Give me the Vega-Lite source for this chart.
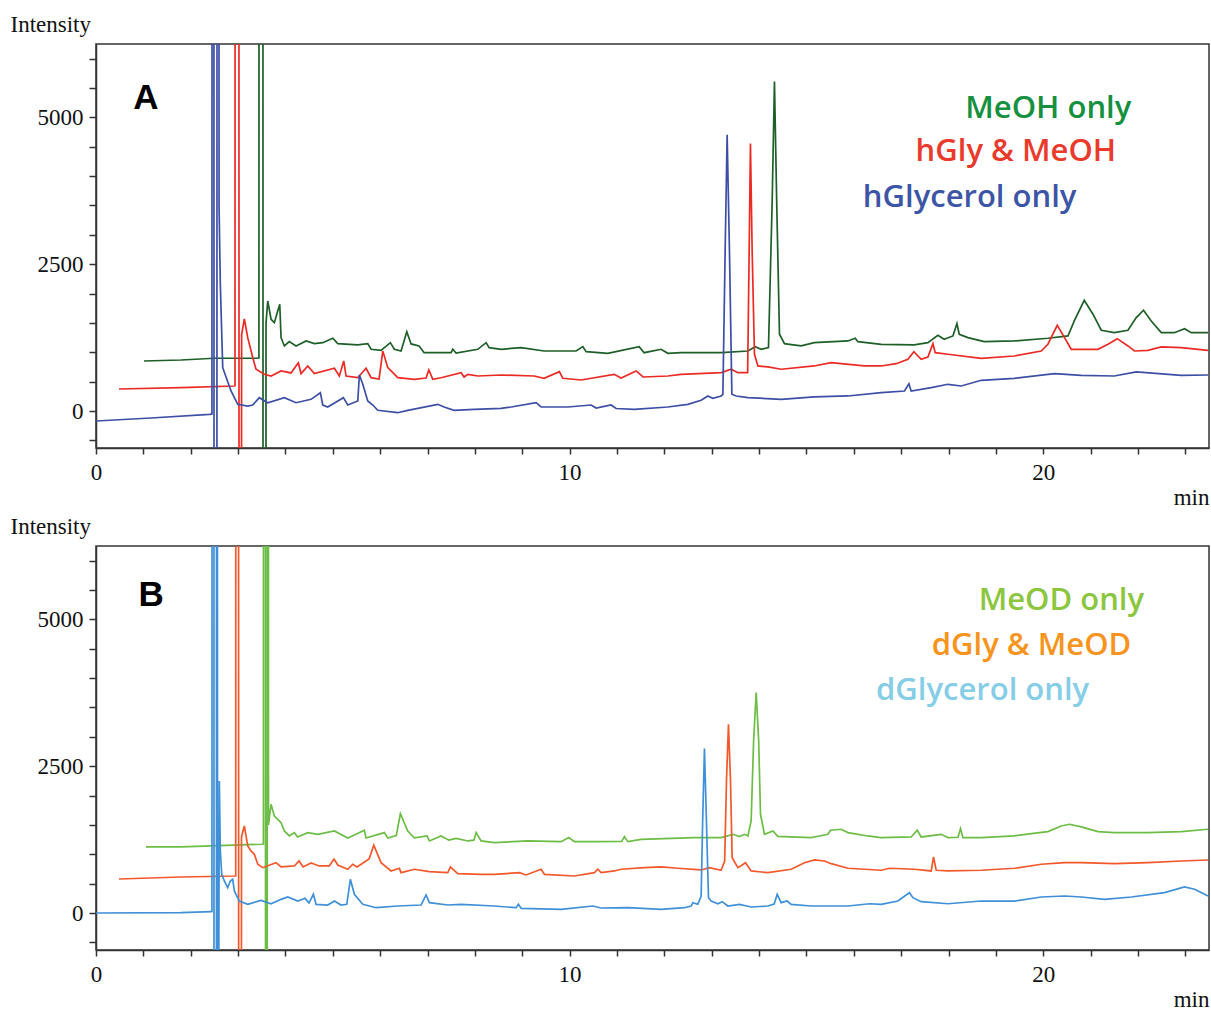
{
  "$schema": "https://vega.github.io/schema/vega-lite/v6.json",
  "padding": {"left": 9, "top": 12, "right": 2, "bottom": 2},
  "background": "white",
  "bounds": "flush",
  "spacing": 98,
  "datasets": {
    "A": [
      {"s":"MeOH only","t":1.014,"v":852},{"s":"MeOH only","t":1.795,"v":869},{"s":"MeOH only","t":2.498,"v":898},{"s":"MeOH only","t":3.415,"v":898},{"s":"MeOH only","t":3.44,"v":905},{"s":"MeOH only","t":3.442,"v":9000},{"s":"MeOH only","t":3.525,"v":9000},{"s":"MeOH only","t":3.527,"v":-3000},{"s":"MeOH only","t":3.588,"v":-3000},{"s":"MeOH only","t":3.59,"v":1500},{"s":"MeOH only","t":3.626,"v":1874},{"s":"MeOH only","t":3.696,"v":1563},{"s":"MeOH only","t":3.766,"v":1505},{"s":"MeOH only","t":3.837,"v":1704},{"s":"MeOH only","t":3.88,"v":1818},{"s":"MeOH only","t":3.907,"v":1249},{"s":"MeOH only","t":3.977,"v":1108},{"s":"MeOH only","t":4.082,"v":1181},{"s":"MeOH only","t":4.224,"v":1108},{"s":"MeOH only","t":4.435,"v":1193},{"s":"MeOH only","t":4.61,"v":1147},{"s":"MeOH only","t":4.788,"v":1164},{"s":"MeOH only","t":4.999,"v":1239},{"s":"MeOH only","t":5.105,"v":1147},{"s":"MeOH only","t":5.527,"v":1125},{"s":"MeOH only","t":5.738,"v":1147},{"s":"MeOH only","t":5.808,"v":1051},{"s":"MeOH only","t":6.019,"v":1034},{"s":"MeOH only","t":6.215,"v":1164},{"s":"MeOH only","t":6.3,"v":1051},{"s":"MeOH only","t":6.441,"v":1022},{"s":"MeOH only","t":6.562,"v":1351},{"s":"MeOH only","t":6.653,"v":1142},{"s":"MeOH only","t":6.822,"v":1108},{"s":"MeOH only","t":6.927,"v":993},{"s":"MeOH only","t":7.497,"v":993},{"s":"MeOH only","t":7.533,"v":1051},{"s":"MeOH only","t":7.603,"v":988},{"s":"MeOH only","t":8.061,"v":1051},{"s":"MeOH only","t":8.237,"v":1164},{"s":"MeOH only","t":8.3,"v":1079},{"s":"MeOH only","t":8.553,"v":1051},{"s":"MeOH only","t":8.976,"v":1079},{"s":"MeOH only","t":9.461,"v":1022},{"s":"MeOH only","t":10.137,"v":1022},{"s":"MeOH only","t":10.279,"v":1096},{"s":"MeOH only","t":10.348,"v":1010},{"s":"MeOH only","t":10.807,"v":983},{"s":"MeOH only","t":11.468,"v":1096},{"s":"MeOH only","t":11.573,"v":993},{"s":"MeOH only","t":11.932,"v":1051},{"s":"MeOH only","t":12.074,"v":983},{"s":"MeOH only","t":12.355,"v":993},{"s":"MeOH only","t":13.2,"v":993},{"s":"MeOH only","t":13.764,"v":1022},{"s":"MeOH only","t":13.918,"v":1096},{"s":"MeOH only","t":14.044,"v":1051},{"s":"MeOH only","t":14.199,"v":1079},{"s":"MeOH only","t":14.277,"v":3578},{"s":"MeOH only","t":14.325,"v":5611},{"s":"MeOH only","t":14.372,"v":3578},{"s":"MeOH only","t":14.431,"v":1307},{"s":"MeOH only","t":14.537,"v":1147},{"s":"MeOH only","t":14.642,"v":1136},{"s":"MeOH only","t":14.889,"v":1108},{"s":"MeOH only","t":15.164,"v":1164},{"s":"MeOH only","t":15.876,"v":1193},{"s":"MeOH only","t":16.03,"v":1239},{"s":"MeOH only","t":16.087,"v":1181},{"s":"MeOH only","t":16.579,"v":1136},{"s":"MeOH only","t":17.276,"v":1125},{"s":"MeOH only","t":17.565,"v":1164},{"s":"MeOH only","t":17.776,"v":1290},{"s":"MeOH only","t":17.909,"v":1222},{"s":"MeOH only","t":18.093,"v":1278},{"s":"MeOH only","t":18.178,"v":1488},{"s":"MeOH only","t":18.226,"v":1307},{"s":"MeOH only","t":18.41,"v":1249},{"s":"MeOH only","t":18.754,"v":1181},{"s":"MeOH only","t":19.388,"v":1193},{"s":"MeOH only","t":20.099,"v":1239},{"s":"MeOH only","t":20.522,"v":1278},{"s":"MeOH only","t":20.655,"v":1534},{"s":"MeOH only","t":20.866,"v":1886},{"s":"MeOH only","t":21.05,"v":1648},{"s":"MeOH only","t":21.225,"v":1375},{"s":"MeOH only","t":21.5,"v":1334},{"s":"MeOH only","t":21.789,"v":1375},{"s":"MeOH only","t":21.964,"v":1590},{"s":"MeOH only","t":22.118,"v":1716},{"s":"MeOH only","t":22.281,"v":1534},{"s":"MeOH only","t":22.492,"v":1334},{"s":"MeOH only","t":22.767,"v":1334},{"s":"MeOH only","t":22.984,"v":1402},{"s":"MeOH only","t":23.126,"v":1334},{"s":"MeOH only","t":23.479,"v":1334},
      {"s":"hGly & MeOH","t":0.486,"v":375},{"s":"hGly & MeOH","t":1.795,"v":397},{"s":"hGly & MeOH","t":2.921,"v":426},{"s":"hGly & MeOH","t":2.935,"v":430},{"s":"hGly & MeOH","t":2.937,"v":9000},{"s":"hGly & MeOH","t":3.018,"v":9000},{"s":"hGly & MeOH","t":3.02,"v":-3000},{"s":"hGly & MeOH","t":3.07,"v":-3000},{"s":"hGly & MeOH","t":3.075,"v":1300},{"s":"hGly & MeOH","t":3.132,"v":1569},{"s":"hGly & MeOH","t":3.204,"v":1249},{"s":"hGly & MeOH","t":3.309,"v":910},{"s":"hGly & MeOH","t":3.379,"v":710},{"s":"hGly & MeOH","t":3.554,"v":625},{"s":"hGly & MeOH","t":3.696,"v":596},{"s":"hGly & MeOH","t":3.907,"v":682},{"s":"hGly & MeOH","t":4.118,"v":648},{"s":"hGly & MeOH","t":4.272,"v":823},{"s":"hGly & MeOH","t":4.329,"v":636},{"s":"hGly & MeOH","t":4.471,"v":767},{"s":"hGly & MeOH","t":4.61,"v":636},{"s":"hGly & MeOH","t":5.033,"v":728},{"s":"hGly & MeOH","t":5.138,"v":596},{"s":"hGly & MeOH","t":5.231,"v":852},{"s":"hGly & MeOH","t":5.28,"v":596},{"s":"hGly & MeOH","t":5.527,"v":567},{"s":"hGly & MeOH","t":5.702,"v":728},{"s":"hGly & MeOH","t":5.808,"v":567},{"s":"hGly & MeOH","t":5.977,"v":545},{"s":"hGly & MeOH","t":6.055,"v":1022},{"s":"hGly & MeOH","t":6.161,"v":738},{"s":"hGly & MeOH","t":6.372,"v":567},{"s":"hGly & MeOH","t":6.722,"v":540},{"s":"hGly & MeOH","t":6.969,"v":562},{"s":"hGly & MeOH","t":7.027,"v":699},{"s":"hGly & MeOH","t":7.111,"v":540},{"s":"hGly & MeOH","t":7.286,"v":567},{"s":"hGly & MeOH","t":7.709,"v":653},{"s":"hGly & MeOH","t":7.772,"v":579},{"s":"hGly & MeOH","t":7.85,"v":625},{"s":"hGly & MeOH","t":8.061,"v":596},{"s":"hGly & MeOH","t":8.553,"v":613},{"s":"hGly & MeOH","t":9.25,"v":596},{"s":"hGly & MeOH","t":9.461,"v":557},{"s":"hGly & MeOH","t":9.785,"v":670},{"s":"hGly & MeOH","t":9.856,"v":557},{"s":"hGly & MeOH","t":10.243,"v":528},{"s":"hGly & MeOH","t":10.94,"v":625},{"s":"hGly & MeOH","t":11.088,"v":562},{"s":"hGly & MeOH","t":11.404,"v":682},{"s":"hGly & MeOH","t":11.552,"v":579},{"s":"hGly & MeOH","t":12.074,"v":596},{"s":"hGly & MeOH","t":12.355,"v":625},{"s":"hGly & MeOH","t":13.2,"v":653},{"s":"hGly & MeOH","t":13.411,"v":711},{"s":"hGly & MeOH","t":13.552,"v":653},{"s":"hGly & MeOH","t":13.759,"v":653},{"s":"hGly & MeOH","t":13.791,"v":2726},{"s":"hGly & MeOH","t":13.818,"v":4555},{"s":"hGly & MeOH","t":13.854,"v":2726},{"s":"hGly & MeOH","t":13.903,"v":966},{"s":"hGly & MeOH","t":13.975,"v":767},{"s":"hGly & MeOH","t":14.186,"v":750},{"s":"hGly & MeOH","t":14.467,"v":711},{"s":"hGly & MeOH","t":15.164,"v":767},{"s":"hGly & MeOH","t":15.523,"v":823},{"s":"hGly & MeOH","t":16.22,"v":767},{"s":"hGly & MeOH","t":16.579,"v":767},{"s":"hGly & MeOH","t":16.896,"v":806},{"s":"hGly & MeOH","t":17.143,"v":881},{"s":"hGly & MeOH","t":17.269,"v":1010},{"s":"hGly & MeOH","t":17.423,"v":881},{"s":"hGly & MeOH","t":17.565,"v":920},{"s":"hGly & MeOH","t":17.671,"v":1147},{"s":"hGly & MeOH","t":17.719,"v":993},{"s":"hGly & MeOH","t":17.988,"v":966},{"s":"hGly & MeOH","t":18.691,"v":898},{"s":"hGly & MeOH","t":19.388,"v":937},{"s":"hGly & MeOH","t":19.958,"v":1022},{"s":"hGly & MeOH","t":20.099,"v":1137},{"s":"hGly & MeOH","t":20.296,"v":1460},{"s":"hGly & MeOH","t":20.45,"v":1249},{"s":"hGly & MeOH","t":20.591,"v":1051},{"s":"hGly & MeOH","t":21.155,"v":1051},{"s":"hGly & MeOH","t":21.367,"v":1137},{"s":"hGly & MeOH","t":21.563,"v":1232},{"s":"hGly & MeOH","t":21.789,"v":1108},{"s":"hGly & MeOH","t":21.928,"v":1022},{"s":"hGly & MeOH","t":22.211,"v":1034},{"s":"hGly & MeOH","t":22.492,"v":1091},{"s":"hGly & MeOH","t":22.915,"v":1079},{"s":"hGly & MeOH","t":23.479,"v":1034},
      {"s":"hGlycerol only","t":0,"v":-170},{"s":"hGlycerol only","t":1.162,"v":-119},{"s":"hGlycerol only","t":2.399,"v":-56},{"s":"hGlycerol only","t":2.448,"v":-50},{"s":"hGlycerol only","t":2.45,"v":9000},{"s":"hGlycerol only","t":2.49,"v":9000},{"s":"hGlycerol only","t":2.492,"v":-3000},{"s":"hGlycerol only","t":2.553,"v":-3000},{"s":"hGlycerol only","t":2.555,"v":9000},{"s":"hGlycerol only","t":2.596,"v":9000},{"s":"hGlycerol only","t":2.598,"v":3500},{"s":"hGlycerol only","t":2.625,"v":2159},{"s":"hGlycerol only","t":2.676,"v":738},{"s":"hGlycerol only","t":2.851,"v":341},{"s":"hGlycerol only","t":2.993,"v":114},{"s":"hGlycerol only","t":3.204,"v":85},{"s":"hGlycerol only","t":3.309,"v":102},{"s":"hGlycerol only","t":3.449,"v":227},{"s":"hGlycerol only","t":3.626,"v":141},{"s":"hGlycerol only","t":3.977,"v":227},{"s":"hGlycerol only","t":4.224,"v":141},{"s":"hGlycerol only","t":4.541,"v":199},{"s":"hGlycerol only","t":4.737,"v":312},{"s":"hGlycerol only","t":4.788,"v":102},{"s":"hGlycerol only","t":4.893,"v":68},{"s":"hGlycerol only","t":5.223,"v":227},{"s":"hGlycerol only","t":5.316,"v":102},{"s":"hGlycerol only","t":5.527,"v":170},{"s":"hGlycerol only","t":5.561,"v":613},{"s":"hGlycerol only","t":5.633,"v":455},{"s":"hGlycerol only","t":5.738,"v":170},{"s":"hGlycerol only","t":5.844,"v":102},{"s":"hGlycerol only","t":5.949,"v":12},{"s":"hGlycerol only","t":6.372,"v":-29},{"s":"hGlycerol only","t":6.583,"v":12},{"s":"hGlycerol only","t":7.217,"v":114},{"s":"hGlycerol only","t":7.35,"v":68},{"s":"hGlycerol only","t":7.561,"v":12},{"s":"hGlycerol only","t":7.983,"v":29},{"s":"hGlycerol only","t":8.553,"v":46},{"s":"hGlycerol only","t":8.765,"v":68},{"s":"hGlycerol only","t":9.293,"v":141},{"s":"hGlycerol only","t":9.398,"v":68},{"s":"hGlycerol only","t":9.962,"v":68},{"s":"hGlycerol only","t":10.454,"v":102},{"s":"hGlycerol only","t":10.56,"v":51},{"s":"hGlycerol only","t":10.876,"v":102},{"s":"hGlycerol only","t":10.982,"v":43},{"s":"hGlycerol only","t":11.362,"v":29},{"s":"hGlycerol only","t":12.074,"v":68},{"s":"hGlycerol only","t":12.497,"v":114},{"s":"hGlycerol only","t":12.777,"v":182},{"s":"hGlycerol only","t":12.919,"v":256},{"s":"hGlycerol only","t":13.024,"v":216},{"s":"hGlycerol only","t":13.2,"v":256},{"s":"hGlycerol only","t":13.236,"v":285},{"s":"hGlycerol only","t":13.284,"v":2726},{"s":"hGlycerol only","t":13.326,"v":4703},{"s":"hGlycerol only","t":13.375,"v":2726},{"s":"hGlycerol only","t":13.426,"v":285},{"s":"hGlycerol only","t":13.516,"v":256},{"s":"hGlycerol only","t":13.764,"v":227},{"s":"hGlycerol only","t":14.467,"v":199},{"s":"hGlycerol only","t":15.164,"v":239},{"s":"hGlycerol only","t":15.876,"v":256},{"s":"hGlycerol only","t":16.579,"v":312},{"s":"hGlycerol only","t":17.071,"v":341},{"s":"hGlycerol only","t":17.164,"v":465},{"s":"hGlycerol only","t":17.212,"v":341},{"s":"hGlycerol only","t":17.635,"v":397},{"s":"hGlycerol only","t":17.988,"v":455},{"s":"hGlycerol only","t":18.268,"v":426},{"s":"hGlycerol only","t":18.691,"v":523},{"s":"hGlycerol only","t":19.388,"v":557},{"s":"hGlycerol only","t":20.239,"v":636},{"s":"hGlycerol only","t":20.803,"v":608},{"s":"hGlycerol only","t":21.5,"v":596},{"s":"hGlycerol only","t":21.964,"v":665},{"s":"hGlycerol only","t":22.915,"v":608},{"s":"hGlycerol only","t":23.479,"v":613}
    ],
    "B": [
      {"s":"MeOD only","t":1.056,"v":1125},{"s":"MeOD only","t":1.795,"v":1125},{"s":"MeOD only","t":3.485,"v":1171},{"s":"MeOD only","t":3.535,"v":1175},{"s":"MeOD only","t":3.537,"v":9000},{"s":"MeOD only","t":3.578,"v":9000},{"s":"MeOD only","t":3.58,"v":-3000},{"s":"MeOD only","t":3.615,"v":-3000},{"s":"MeOD only","t":3.617,"v":9000},{"s":"MeOD only","t":3.64,"v":9000},{"s":"MeOD only","t":3.642,"v":1500},{"s":"MeOD only","t":3.696,"v":1852},{"s":"MeOD only","t":3.766,"v":1652},{"s":"MeOD only","t":3.837,"v":1595},{"s":"MeOD only","t":3.907,"v":1539},{"s":"MeOD only","t":3.977,"v":1397},{"s":"MeOD only","t":4.082,"v":1312},{"s":"MeOD only","t":4.188,"v":1369},{"s":"MeOD only","t":4.258,"v":1295},{"s":"MeOD only","t":4.471,"v":1369},{"s":"MeOD only","t":4.682,"v":1340},{"s":"MeOD only","t":5.033,"v":1397},{"s":"MeOD only","t":5.316,"v":1278},{"s":"MeOD only","t":5.455,"v":1330},{"s":"MeOD only","t":5.666,"v":1409},{"s":"MeOD only","t":5.702,"v":1278},{"s":"MeOD only","t":6.089,"v":1369},{"s":"MeOD only","t":6.161,"v":1278},{"s":"MeOD only","t":6.34,"v":1320},{"s":"MeOD only","t":6.427,"v":1692},{"s":"MeOD only","t":6.583,"v":1397},{"s":"MeOD only","t":6.722,"v":1278},{"s":"MeOD only","t":6.99,"v":1312},{"s":"MeOD only","t":7.039,"v":1227},{"s":"MeOD only","t":7.286,"v":1312},{"s":"MeOD only","t":7.45,"v":1240},{"s":"MeOD only","t":7.603,"v":1272},{"s":"MeOD only","t":7.85,"v":1227},{"s":"MeOD only","t":7.98,"v":1240},{"s":"MeOD only","t":8.025,"v":1369},{"s":"MeOD only","t":8.131,"v":1227},{"s":"MeOD only","t":8.412,"v":1198},{"s":"MeOD only","t":9.117,"v":1227},{"s":"MeOD only","t":9.821,"v":1215},{"s":"MeOD only","t":9.983,"v":1284},{"s":"MeOD only","t":10.101,"v":1215},{"s":"MeOD only","t":10.524,"v":1215},{"s":"MeOD only","t":11.1,"v":1220},{"s":"MeOD only","t":11.157,"v":1301},{"s":"MeOD only","t":11.229,"v":1215},{"s":"MeOD only","t":11.51,"v":1255},{"s":"MeOD only","t":12.635,"v":1284},{"s":"MeOD only","t":13.2,"v":1284},{"s":"MeOD only","t":13.448,"v":1340},{"s":"MeOD only","t":13.586,"v":1301},{"s":"MeOD only","t":13.692,"v":1340},{"s":"MeOD only","t":13.764,"v":1312},{"s":"MeOD only","t":13.833,"v":1568},{"s":"MeOD only","t":13.885,"v":2931},{"s":"MeOD only","t":13.939,"v":3754},{"s":"MeOD only","t":13.992,"v":2931},{"s":"MeOD only","t":14.03,"v":1682},{"s":"MeOD only","t":14.114,"v":1341},{"s":"MeOD only","t":14.292,"v":1397},{"s":"MeOD only","t":14.397,"v":1306},{"s":"MeOD only","t":15.1,"v":1284},{"s":"MeOD only","t":15.17,"v":1295},{"s":"MeOD only","t":15.453,"v":1340},{"s":"MeOD only","t":15.508,"v":1409},{"s":"MeOD only","t":15.734,"v":1426},{"s":"MeOD only","t":15.876,"v":1369},{"s":"MeOD only","t":16.298,"v":1312},{"s":"MeOD only","t":16.579,"v":1284},{"s":"MeOD only","t":17.212,"v":1295},{"s":"MeOD only","t":17.339,"v":1409},{"s":"MeOD only","t":17.423,"v":1295},{"s":"MeOD only","t":17.846,"v":1340},{"s":"MeOD only","t":17.988,"v":1284},{"s":"MeOD only","t":18.2,"v":1290},{"s":"MeOD only","t":18.254,"v":1437},{"s":"MeOD only","t":18.304,"v":1284},{"s":"MeOD only","t":18.691,"v":1284},{"s":"MeOD only","t":19.388,"v":1312},{"s":"MeOD only","t":19.747,"v":1352},{"s":"MeOD only","t":20.099,"v":1386},{"s":"MeOD only","t":20.38,"v":1482},{"s":"MeOD only","t":20.556,"v":1511},{"s":"MeOD only","t":20.803,"v":1466},{"s":"MeOD only","t":21.155,"v":1386},{"s":"MeOD only","t":21.5,"v":1369},{"s":"MeOD only","t":22.211,"v":1369},{"s":"MeOD only","t":22.915,"v":1386},{"s":"MeOD only","t":23.479,"v":1426},
      {"s":"dGly & MeOD","t":0.486,"v":579},{"s":"dGly & MeOD","t":1.795,"v":613},{"s":"dGly & MeOD","t":2.921,"v":630},{"s":"dGly & MeOD","t":2.95,"v":632},{"s":"dGly & MeOD","t":2.952,"v":9000},{"s":"dGly & MeOD","t":3.01,"v":9000},{"s":"dGly & MeOD","t":3.012,"v":-3000},{"s":"dGly & MeOD","t":3.07,"v":-3000},{"s":"dGly & MeOD","t":3.072,"v":1300},{"s":"dGly & MeOD","t":3.132,"v":1482},{"s":"dGly & MeOD","t":3.204,"v":1142},{"s":"dGly & MeOD","t":3.273,"v":1057},{"s":"dGly & MeOD","t":3.344,"v":1000},{"s":"dGly & MeOD","t":3.415,"v":830},{"s":"dGly & MeOD","t":3.52,"v":772},{"s":"dGly & MeOD","t":3.801,"v":857},{"s":"dGly & MeOD","t":3.907,"v":784},{"s":"dGly & MeOD","t":4.188,"v":801},{"s":"dGly & MeOD","t":4.287,"v":886},{"s":"dGly & MeOD","t":4.372,"v":784},{"s":"dGly & MeOD","t":4.541,"v":852},{"s":"dGly & MeOD","t":4.71,"v":801},{"s":"dGly & MeOD","t":4.927,"v":801},{"s":"dGly & MeOD","t":5.026,"v":920},{"s":"dGly & MeOD","t":5.105,"v":818},{"s":"dGly & MeOD","t":5.316,"v":745},{"s":"dGly & MeOD","t":5.421,"v":830},{"s":"dGly & MeOD","t":5.512,"v":784},{"s":"dGly & MeOD","t":5.766,"v":920},{"s":"dGly & MeOD","t":5.865,"v":1154},{"s":"dGly & MeOD","t":6.019,"v":857},{"s":"dGly & MeOD","t":6.23,"v":716},{"s":"dGly & MeOD","t":6.405,"v":762},{"s":"dGly & MeOD","t":6.441,"v":687},{"s":"dGly & MeOD","t":6.722,"v":745},{"s":"dGly & MeOD","t":7.039,"v":704},{"s":"dGly & MeOD","t":7.428,"v":687},{"s":"dGly & MeOD","t":7.483,"v":784},{"s":"dGly & MeOD","t":7.639,"v":670},{"s":"dGly & MeOD","t":8.131,"v":659},{"s":"dGly & MeOD","t":8.412,"v":659},{"s":"dGly & MeOD","t":8.94,"v":687},{"s":"dGly & MeOD","t":9.081,"v":648},{"s":"dGly & MeOD","t":9.398,"v":745},{"s":"dGly & MeOD","t":9.468,"v":659},{"s":"dGly & MeOD","t":10.101,"v":630},{"s":"dGly & MeOD","t":10.524,"v":687},{"s":"dGly & MeOD","t":10.595,"v":745},{"s":"dGly & MeOD","t":10.665,"v":690},{"s":"dGly & MeOD","t":10.946,"v":716},{"s":"dGly & MeOD","t":11.088,"v":745},{"s":"dGly & MeOD","t":11.58,"v":772},{"s":"dGly & MeOD","t":11.932,"v":784},{"s":"dGly & MeOD","t":12.285,"v":762},{"s":"dGly & MeOD","t":12.777,"v":733},{"s":"dGly & MeOD","t":12.952,"v":772},{"s":"dGly & MeOD","t":13.2,"v":728},{"s":"dGly & MeOD","t":13.274,"v":886},{"s":"dGly & MeOD","t":13.312,"v":2249},{"s":"dGly & MeOD","t":13.354,"v":3215},{"s":"dGly & MeOD","t":13.397,"v":2249},{"s":"dGly & MeOD","t":13.432,"v":942},{"s":"dGly & MeOD","t":13.552,"v":772},{"s":"dGly & MeOD","t":13.643,"v":818},{"s":"dGly & MeOD","t":13.713,"v":857},{"s":"dGly & MeOD","t":13.833,"v":716},{"s":"dGly & MeOD","t":14.186,"v":687},{"s":"dGly & MeOD","t":14.678,"v":745},{"s":"dGly & MeOD","t":14.959,"v":857},{"s":"dGly & MeOD","t":15.17,"v":903},{"s":"dGly & MeOD","t":15.381,"v":886},{"s":"dGly & MeOD","t":15.523,"v":840},{"s":"dGly & MeOD","t":15.876,"v":762},{"s":"dGly & MeOD","t":16.579,"v":728},{"s":"dGly & MeOD","t":16.754,"v":762},{"s":"dGly & MeOD","t":17.282,"v":745},{"s":"dGly & MeOD","t":17.635,"v":716},{"s":"dGly & MeOD","t":17.683,"v":954},{"s":"dGly & MeOD","t":17.74,"v":728},{"s":"dGly & MeOD","t":17.988,"v":716},{"s":"dGly & MeOD","t":18.691,"v":728},{"s":"dGly & MeOD","t":19.394,"v":762},{"s":"dGly & MeOD","t":19.958,"v":830},{"s":"dGly & MeOD","t":20.45,"v":857},{"s":"dGly & MeOD","t":20.803,"v":857},{"s":"dGly & MeOD","t":21.506,"v":840},{"s":"dGly & MeOD","t":22.211,"v":857},{"s":"dGly & MeOD","t":22.915,"v":886},{"s":"dGly & MeOD","t":23.479,"v":903},
      {"s":"dGlycerol only","t":0,"v":0},{"s":"dGlycerol only","t":1.795,"v":5},{"s":"dGlycerol only","t":2.429,"v":22},{"s":"dGlycerol only","t":2.448,"v":25},{"s":"dGlycerol only","t":2.45,"v":9000},{"s":"dGlycerol only","t":2.49,"v":9000},{"s":"dGlycerol only","t":2.492,"v":-3000},{"s":"dGlycerol only","t":2.543,"v":-3000},{"s":"dGlycerol only","t":2.545,"v":9000},{"s":"dGlycerol only","t":2.564,"v":9000},{"s":"dGlycerol only","t":2.566,"v":-3000},{"s":"dGlycerol only","t":2.585,"v":-3000},{"s":"dGlycerol only","t":2.604,"v":2249},{"s":"dGlycerol only","t":2.625,"v":1056},{"s":"dGlycerol only","t":2.655,"v":659},{"s":"dGlycerol only","t":2.71,"v":545},{"s":"dGlycerol only","t":2.781,"v":431},{"s":"dGlycerol only","t":2.836,"v":545},{"s":"dGlycerol only","t":2.887,"v":574},{"s":"dGlycerol only","t":2.921,"v":375},{"s":"dGlycerol only","t":3.026,"v":204},{"s":"dGlycerol only","t":3.204,"v":148},{"s":"dGlycerol only","t":3.485,"v":216},{"s":"dGlycerol only","t":3.696,"v":158},{"s":"dGlycerol only","t":3.907,"v":233},{"s":"dGlycerol only","t":4.049,"v":273},{"s":"dGlycerol only","t":4.26,"v":204},{"s":"dGlycerol only","t":4.414,"v":250},{"s":"dGlycerol only","t":4.498,"v":170},{"s":"dGlycerol only","t":4.589,"v":319},{"s":"dGlycerol only","t":4.646,"v":148},{"s":"dGlycerol only","t":4.893,"v":136},{"s":"dGlycerol only","t":5.033,"v":204},{"s":"dGlycerol only","t":5.174,"v":136},{"s":"dGlycerol only","t":5.295,"v":148},{"s":"dGlycerol only","t":5.371,"v":574},{"s":"dGlycerol only","t":5.455,"v":319},{"s":"dGlycerol only","t":5.633,"v":148},{"s":"dGlycerol only","t":5.913,"v":90},{"s":"dGlycerol only","t":6.372,"v":119},{"s":"dGlycerol only","t":6.864,"v":136},{"s":"dGlycerol only","t":6.969,"v":307},{"s":"dGlycerol only","t":7.039,"v":176},{"s":"dGlycerol only","t":7.428,"v":136},{"s":"dGlycerol only","t":7.709,"v":148},{"s":"dGlycerol only","t":8.412,"v":119},{"s":"dGlycerol only","t":8.87,"v":90},{"s":"dGlycerol only","t":8.919,"v":148},{"s":"dGlycerol only","t":8.976,"v":80},{"s":"dGlycerol only","t":9.821,"v":63},{"s":"dGlycerol only","t":10.49,"v":119},{"s":"dGlycerol only","t":10.665,"v":85},{"s":"dGlycerol only","t":11.229,"v":90},{"s":"dGlycerol only","t":11.932,"v":63},{"s":"dGlycerol only","t":12.424,"v":90},{"s":"dGlycerol only","t":12.566,"v":119},{"s":"dGlycerol only","t":12.601,"v":176},{"s":"dGlycerol only","t":12.708,"v":148},{"s":"dGlycerol only","t":12.777,"v":290},{"s":"dGlycerol only","t":12.809,"v":1568},{"s":"dGlycerol only","t":12.847,"v":2800},{"s":"dGlycerol only","t":12.889,"v":1568},{"s":"dGlycerol only","t":12.932,"v":261},{"s":"dGlycerol only","t":12.988,"v":204},{"s":"dGlycerol only","t":13.13,"v":158},{"s":"dGlycerol only","t":13.221,"v":193},{"s":"dGlycerol only","t":13.341,"v":119},{"s":"dGlycerol only","t":13.586,"v":148},{"s":"dGlycerol only","t":13.833,"v":102},{"s":"dGlycerol only","t":14.186,"v":119},{"s":"dGlycerol only","t":14.319,"v":153},{"s":"dGlycerol only","t":14.382,"v":319},{"s":"dGlycerol only","t":14.467,"v":176},{"s":"dGlycerol only","t":14.593,"v":204},{"s":"dGlycerol only","t":14.678,"v":148},{"s":"dGlycerol only","t":15.1,"v":119},{"s":"dGlycerol only","t":15.876,"v":119},{"s":"dGlycerol only","t":16.332,"v":158},{"s":"dGlycerol only","t":16.579,"v":148},{"s":"dGlycerol only","t":16.931,"v":204},{"s":"dGlycerol only","t":17.128,"v":319},{"s":"dGlycerol only","t":17.177,"v":346},{"s":"dGlycerol only","t":17.248,"v":261},{"s":"dGlycerol only","t":17.423,"v":193},{"s":"dGlycerol only","t":17.988,"v":158},{"s":"dGlycerol only","t":18.691,"v":204},{"s":"dGlycerol only","t":19.394,"v":204},{"s":"dGlycerol only","t":19.958,"v":273},{"s":"dGlycerol only","t":20.45,"v":290},{"s":"dGlycerol only","t":20.803,"v":273},{"s":"dGlycerol only","t":21.295,"v":233},{"s":"dGlycerol only","t":21.859,"v":273},{"s":"dGlycerol only","t":22.562,"v":346},{"s":"dGlycerol only","t":22.984,"v":443},{"s":"dGlycerol only","t":23.196,"v":404},{"s":"dGlycerol only","t":23.479,"v":290}
    ],
    "labA": [
      {"label":"MeOH only","t":21.86,"v":5146},
      {"label":"hGly & MeOH","t":21.54,"v":4413},
      {"label":"hGlycerol only","t":20.7,"v":3630}
    ],
    "labB": [
      {"label":"MeOD only","t":22.13,"v":5316},
      {"label":"dGly & MeOD","t":21.86,"v":4550},
      {"label":"dGlycerol only","t":20.97,"v":3783}
    ]
  },
  "vconcat": [
    {
      "width": 1113,
      "height": 404,
      "encoding": {
        "x": {"field": "t", "type": "quantitative",
          "scale": {"domain": [0, 23.5], "nice": false, "zero": false},
          "axis": {"values": [0,1,2,3,4,5,6,7,8,9,10,11,12,13,14,15,16,17,18,19,20,21,22,23],
            "labelExpr": "datum.value % 10 === 0 ? datum.label : ''",
            "tickSize": 6, "labelPadding": 7, "labelFlush": false, "labelOverlap": false,
            "title": "min", "titleX": 1113, "titleY": 56, "titleAlign": "right", "titleBaseline": "alphabetic",
            "encode": {"ticks": {"update": {"y2": {"signal": "datum.value % 5 === 0 ? 12 : 6"}}}}}},
        "y": {"field": "v", "type": "quantitative",
          "scale": {"domain": [-630, 6250], "nice": false, "zero": false},
          "axis": {"values": [-500,0,500,1000,1500,2000,2500,3000,3500,4000,4500,5000,5500,6000],
            "labelExpr": "datum.value % 2500 === 0 ? datum.label : ''", "format": "d",
            "tickSize": 7, "labelPadding": 6, "labelOverlap": false,
            "title": "Intensity", "titleAngle": 0, "titleX": -86, "titleY": -13, "titleAlign": "left", "titleBaseline": "alphabetic",
            "encode": {"ticks": {"update": {"x2": {"signal": "datum.value % 2500 === 0 ? -14 : -7"}}}}}}
      },
      "layer": [
        {"data": {"name": "A"},
          "mark": {"type": "line", "clip": true, "strokeWidth": 1.7},
          "encoding": {"stroke": {"field": "s", "type": "nominal", "legend": null,
            "scale": {"domain": ["MeOH only","hGly & MeOH","hGlycerol only","MeOD only","dGly & MeOD","dGlycerol only"],
              "range": ["#1d5f27","#ec2a24","#3d4fa5","#6cbd45","#f3582a","#3f90d8"]}}}},
        {"data": {"name": "labA"},
          "mark": {"type": "text", "font": "Open Sans", "fontWeight": 600, "fontSize": 31, "align": "right", "baseline": "middle"},
          "encoding": {"text": {"field": "label"},
            "fill": {"field": "label", "type": "nominal", "legend": null,
              "scale": {"domain": ["MeOH only","hGly & MeOH","hGlycerol only","MeOD only","dGly & MeOD","dGlycerol only"],
                "range": ["#15903f","#e93a2c","#3c55a6","#8cc63f","#f7941d","#86cde6"]}}}},
        {"data": {"values": [{"letter": "A", "t": 1.056, "v": 5334}]},
          "mark": {"type": "text", "font": "Liberation Sans", "fontWeight": "bold", "fontSize": 35, "align": "center", "baseline": "middle", "color": "#000"},
          "encoding": {"text": {"field": "letter"}}}
      ]
    },
    {
      "width": 1113,
      "height": 404,
      "encoding": {
        "x": {"field": "t", "type": "quantitative",
          "scale": {"domain": [0, 23.5], "nice": false, "zero": false},
          "axis": {"values": [0,1,2,3,4,5,6,7,8,9,10,11,12,13,14,15,16,17,18,19,20,21,22,23],
            "labelExpr": "datum.value % 10 === 0 ? datum.label : ''",
            "tickSize": 6, "labelPadding": 7, "labelFlush": false, "labelOverlap": false,
            "title": "min", "titleX": 1113, "titleY": 56, "titleAlign": "right", "titleBaseline": "alphabetic",
            "encode": {"ticks": {"update": {"y2": {"signal": "datum.value % 5 === 0 ? 12 : 6"}}}}}},
        "y": {"field": "v", "type": "quantitative",
          "scale": {"domain": [-630, 6250], "nice": false, "zero": false},
          "axis": {"values": [-500,0,500,1000,1500,2000,2500,3000,3500,4000,4500,5000,5500,6000],
            "labelExpr": "datum.value % 2500 === 0 ? datum.label : ''", "format": "d",
            "tickSize": 7, "labelPadding": 6, "labelOverlap": false,
            "title": "Intensity", "titleAngle": 0, "titleX": -86, "titleY": -13, "titleAlign": "left", "titleBaseline": "alphabetic",
            "encode": {"ticks": {"update": {"x2": {"signal": "datum.value % 2500 === 0 ? -14 : -7"}}}}}}
      },
      "layer": [
        {"data": {"name": "B"},
          "mark": {"type": "line", "clip": true, "strokeWidth": 1.7},
          "encoding": {"stroke": {"field": "s", "type": "nominal", "legend": null,
            "scale": {"domain": ["MeOH only","hGly & MeOH","hGlycerol only","MeOD only","dGly & MeOD","dGlycerol only"],
              "range": ["#1d5f27","#ec2a24","#3d4fa5","#6cbd45","#f3582a","#3f90d8"]}}}},
        {"data": {"name": "labB"},
          "mark": {"type": "text", "font": "Open Sans", "fontWeight": 600, "fontSize": 31, "align": "right", "baseline": "middle"},
          "encoding": {"text": {"field": "label"},
            "fill": {"field": "label", "type": "nominal", "legend": null,
              "scale": {"domain": ["MeOH only","hGly & MeOH","hGlycerol only","MeOD only","dGly & MeOD","dGlycerol only"],
                "range": ["#15903f","#e93a2c","#3c55a6","#8cc63f","#f7941d","#86cde6"]}}}},
        {"data": {"values": [{"letter": "B", "t": 1.162, "v": 5419}]},
          "mark": {"type": "text", "font": "Liberation Sans", "fontWeight": "bold", "fontSize": 35, "align": "center", "baseline": "middle", "color": "#000"},
          "encoding": {"text": {"field": "letter"}}}
      ]
    }
  ],
  "config": {
    "view": {"stroke": "#333", "strokeWidth": 1.5},
    "axis": {"grid": false, "labelFont": "Liberation Serif", "labelFontSize": 23, "labelColor": "#111",
      "titleFont": "Liberation Serif", "titleFontSize": 23, "titleFontWeight": "normal", "titleColor": "#111",
      "domainColor": "#333", "domainWidth": 1.5, "tickColor": "#333", "tickWidth": 1.5}
  }
}
